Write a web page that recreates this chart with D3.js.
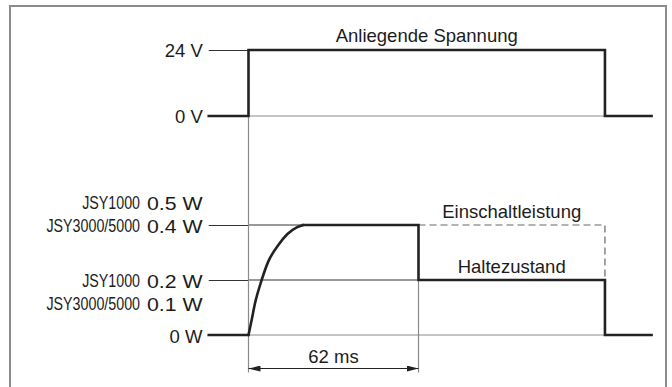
<!DOCTYPE html>
<html>
<head>
<meta charset="utf-8">
<script src="https://cdn.jsdelivr.net/npm/d3@7"></script>
<style>
  html, body { margin: 0; padding: 0; background: #fff; }
  svg { display: block; font-family: "Liberation Sans", Arial, Helvetica, sans-serif; }
</style>
</head>
<body>
<svg id="chart" width="672" height="387"></svg>
<script>
// Timing, in ms after the supply is switched on
const timeStart = -14.5;
const timeEnd = 147;
const switchOn = 0;
const inrushEnd = 62;
const switchOff = 130;

// Supply voltage
const voltageLevels = [0, 24];
const voltageTickLabels = ["0 V", "24 V"];
const voltageTrace = [[-14.5, 0], [0, 0], [0, 24], [130, 24], [130, 0], [147, 0]];
const voltageCaption = "Anliegende Spannung";

// Power, as a relative level: 1 = Einschaltleistung, 0.5 = Haltezustand
const powerLevels = [0, 0.5, 1];
const powerLabelModel = ["JSY1000", "JSY3000/5000", "JSY1000", "JSY3000/5000", ""];
const powerLabelValue = ["0.5 W", "0.4 W", "0.2 W", "0.1 W", "0 W"];
const powerLabelLevel = [1, 1, 0.5, 0.5, 0];
const powerBefore = [[-14.5, 0], [0, 0]];
const inrushRise = [[0, 0], [1.15, 0.136], [2.37, 0.288], [4.8, 0.5], [7.2, 0.667],
                    [10.9, 0.818], [14.2, 0.918], [17.6, 0.979], [20, 1]];
const powerAfter = [[20, 1], [62, 1], [62, 0.5], [130, 0.5], [130, 0], [147, 0]];
const inrushContinued = [[62, 1], [130, 1], [130, 0.5]];
const inrushCaption = "Einschaltleistung";
const holdCaption = "Haltezustand";
const durationLabel = "62 ms";

const svg = d3.select("#chart");
const FONT = 18.5;
const INK = "#1c1c1c";
const THICK = "#222";
const GRID = "#8a8a8a";

// frame
svg.append("rect")
  .attr("x", 10).attr("y", 6).attr("width", 656).attr("height", 420)
  .attr("fill", "none").attr("stroke", "#8c8c8c").attr("stroke-width", 2);

// scales
const x = d3.scaleLinear().domain([switchOn, inrushEnd]).range([248.5, 418.5]);
const yV = d3.scaleLinear().domain([0, 24]).range([116, 50]);
const yP = d3.scaleLinear().domain([0, 1]).range([335, 225]);

const line = d3.line().x(d => x(d[0])).y(d => d[1]);
const lineV = d3.line().x(d => x(d[0])).y(d => yV(d[1]));
const lineP = d3.line().x(d => x(d[0])).y(d => yP(d[1]));

// marker for the dimension arrow
svg.append("defs").append("marker")
  .attr("id", "arrow")
  .attr("viewBox", "0 0 12 6")
  .attr("refX", 12).attr("refY", 3)
  .attr("markerWidth", 12).attr("markerHeight", 6)
  .attr("markerUnits", "userSpaceOnUse")
  .attr("orient", "auto-start-reverse")
  .append("path").attr("d", "M0,0 L12,3 L0,6 Z").attr("fill", THICK);

const tickLen = x(switchOn) - x(timeStart);

// ---- voltage axis ----
const axisV = d3.axisLeft(yV)
  .tickValues(voltageLevels)
  .tickSize(tickLen)
  .tickPadding(6)
  .tickFormat((d, i) => voltageTickLabels[i]);
const gV = svg.append("g").attr("transform", `translate(${x(switchOn)},0)`).call(axisV);
gV.select(".domain").remove();
gV.selectAll(".tick line").attr("stroke", "#333").attr("stroke-width", 1);
gV.selectAll(".tick text")
  .attr("font-size", FONT).attr("font-family", "Liberation Sans, Arial, sans-serif")
  .attr("fill", INK).attr("dy", "0.36em");

// ---- power axis (tick lines only, labels are stacked rows) ----
const axisP = d3.axisLeft(yP)
  .tickValues(powerLevels)
  .tickSize(tickLen)
  .tickFormat("");
const gP = svg.append("g").attr("transform", `translate(${x(switchOn)},0)`).call(axisP);
gP.select(".domain").remove();
gP.selectAll(".tick line").attr("stroke", "#333").attr("stroke-width", 1);

// reference lines inside the diagram
const gridG = svg.append("g");
gridG.append("path").attr("d", line([[switchOn, yV(0)], [switchOff, yV(0)]]))
  .attr("stroke", GRID).attr("stroke-width", 1).attr("fill", "none");
gridG.append("path").attr("d", line([[switchOn, yP(0)], [switchOff, yP(0)]]))
  .attr("stroke", GRID).attr("stroke-width", 1).attr("fill", "none");
[1, 0.5].forEach(lv => {
  gridG.append("path").attr("d", line([[switchOn, yP(lv)], [inrushEnd, yP(lv)]]))
    .attr("stroke", "#333").attr("stroke-width", 1).attr("fill", "none");
});
const dimY = 368.5;
gridG.append("path").attr("d", line([[switchOn, yV(0)], [switchOn, dimY + 4]]))
  .attr("stroke", GRID).attr("stroke-width", 1.2).attr("fill", "none");
gridG.append("path").attr("d", line([[inrushEnd, yP(0.5)], [inrushEnd, dimY + 4]]))
  .attr("stroke", GRID).attr("stroke-width", 1.2).attr("fill", "none");

// power labels: two model rows per level, model names set condensed
const rowH = 23;
const groupIdx = {};
powerLabelValue.forEach((val, i) => {
  const lv = powerLabelLevel[i];
  groupIdx[lv] = (groupIdx[lv] || 0);
  const k = groupIdx[lv]++;
  // the line of the inrush level sits on its second row, the hold level on its first
  const offset = lv === 1 ? k - 1 : k;
  const cy = yP(lv) + offset * rowH + 1;
  if (powerLabelModel[i]) {
    svg.append("text")
      .attr("transform", `translate(140,${cy}) scale(0.815,1)`)
      .attr("dy", "0.36em")
      .attr("text-anchor", "end")
      .attr("font-size", 17.5).attr("fill", INK)
      .text(powerLabelModel[i]);
  }
  const sx = val.length > 3 ? 1.15 : 1;
  svg.append("text")
    .attr("transform", `translate(202.5,${cy}) scale(${sx},1)`)
    .attr("dy", "0.36em")
    .attr("text-anchor", "end")
    .attr("font-size", FONT).attr("fill", INK)
    .text(val);
});

// ---- traces ----
const traceStyle = sel => sel.attr("fill", "none").attr("stroke", THICK)
  .attr("stroke-width", 2.6).attr("stroke-linejoin", "miter").attr("stroke-linecap", "square");

svg.append("path").attr("d", lineV(voltageTrace)).call(traceStyle);

svg.append("path").attr("d", lineP(inrushContinued))
  .attr("fill", "none").attr("stroke", "#666").attr("stroke-width", 1.2)
  .attr("stroke-dasharray", "7,4");

svg.append("path").attr("d", lineP(powerBefore)).call(traceStyle);
svg.append("path").attr("d", lineP.curve(d3.curveMonotoneX)(inrushRise))
  .call(traceStyle).attr("stroke-linecap", "round");
lineP.curve(d3.curveLinear);
svg.append("path").attr("d", lineP(powerAfter)).call(traceStyle);

// ---- dimension arrow ----
svg.append("path").attr("d", line([[switchOn, dimY], [inrushEnd, dimY]]))
  .attr("stroke", THICK).attr("stroke-width", 1.1).attr("fill", "none")
  .attr("marker-start", "url(#arrow)").attr("marker-end", "url(#arrow)");

// ---- captions ----
const caption = (txt, cx, by, len) => {
  const t = svg.append("text")
    .attr("x", cx).attr("y", by).attr("text-anchor", "middle")
    .attr("font-size", FONT).attr("fill", INK).text(txt);
  if (len) t.attr("textLength", len).attr("lengthAdjust", "spacing");
  return t;
};
caption(voltageCaption, (x(switchOn) + x(switchOff)) / 2, yV(24) - 8);
caption(inrushCaption, (x(inrushEnd) + x(switchOff)) / 2, yP(1) - 7, 139);
caption(holdCaption, (x(inrushEnd) + x(switchOff)) / 2, yP(0.5) - 7);
caption(durationLabel, (x(switchOn) + x(inrushEnd)) / 2, dimY - 5.5);
</script>
</body>
</html>
